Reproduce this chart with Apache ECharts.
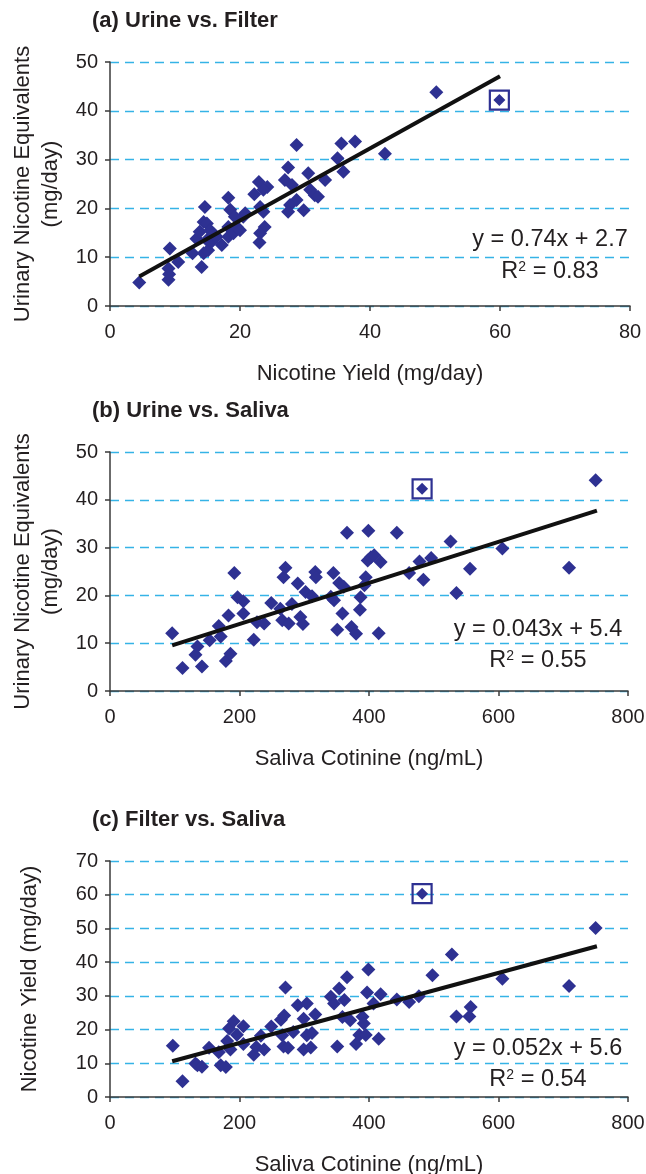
<!DOCTYPE html>
<html><head><meta charset="utf-8">
<script src="https://cdn.jsdelivr.net/npm/echarts@6/dist/echarts.min.js"></script>
<style>html,body{margin:0;padding:0;background:#fff}#c{width:646px;height:1174px}</style>
</head><body><div id="c"></div>
<script>
// ---------- DATA ----------
const panelTitles = ['(a) Urine vs. Filter', '(b) Urine vs. Saliva', '(c) Filter vs. Saliva'];
const xAxisNames = ['Nicotine Yield (mg/day)', 'Saliva Cotinine (ng/mL)', 'Saliva Cotinine (ng/mL)'];
const yAxisNames = ['Urinary Nicotine Equivalents\n(mg/day)', 'Urinary Nicotine Equivalents\n(mg/day)', 'Nicotine Yield (mg/day)'];
const xMax = [80, 800, 800];
const xStep = [20, 200, 200];
const yMax = [50, 50, 70];
const yStep = [10, 10, 10];

// (a) Nicotine yield (x) vs urinary nicotine equivalents (y)
const aX = [4.5,9.0,9.1,9.0,9.2,10.5,12.7,13.3,13.8,14.1,14.4,14.4,14.6,14.9,14.9,15.1,15.4,15.6,15.9,16.4,17.2,18.2,18.2,18.2,18.5,19.0,19.2,19.5,20.0,20.5,20.8,22.2,22.9,24.2,23.6,23.1,23.6,23.8,23.1,23.0,26.9,27.4,28.7,28.0,28.7,27.7,27.4,29.8,30.5,30.8,31.5,32.0,33.1,35.0,35.6,35.9,37.7,42.3,50.2];
const aY = [4.8,5.4,6.5,7.7,11.8,9.0,10.8,13.8,15.2,8.0,10.8,17.2,20.3,13.5,16.9,11.4,15.5,13.1,14.8,14.2,12.5,22.2,16.2,14.2,19.7,14.9,18.3,16.2,15.5,18.3,19.0,22.9,25.4,24.4,23.8,20.3,19.3,16.2,14.9,13.0,25.8,28.4,33.0,24.8,21.7,20.7,19.3,19.6,27.2,23.8,22.7,22.4,25.8,30.3,33.3,27.5,33.7,31.2,43.8];
const aOutlier = [59.9, 42.2];

// (b) Saliva cotinine (x) vs urinary nicotine equivalents (y)
const bX = [96,112,132,135,142,154,168,171,179,186,183,192,197,206,206,222,227,238,249,263,266,268,271,276,281,290,294,298,302,312,317,318,341,345,346,351,354,359,361,366,373,380,386,387,393,395,398,399,403,408,415,418,443,462,478,484,496,526,535,556,606,709,750];
const bY = [12.1,4.8,7.6,9.3,5.1,10.6,13.6,11.4,6.3,7.8,15.8,24.7,19.6,18.8,16.2,10.7,14.4,14.1,18.4,17.2,14.8,23.8,25.8,14.1,18.2,22.5,15.5,14.0,20.7,19.8,24.9,23.8,19.7,24.7,19.0,12.8,22.6,16.2,21.8,33.1,13.4,12.0,17.0,19.6,22.1,23.8,27.3,33.5,28.0,28.4,12.1,27.0,33.1,24.7,27.1,23.3,27.8,31.3,20.5,25.6,29.8,25.8,44.1];
const bOutlier = [482, 42.3];

// (c) Saliva cotinine (x) vs nicotine yield (y)
const cX = [97,112,132,135,142,153,168,171,179,181,186,184,191,196,206,206,222,226,238,233,249,264,269,266,268,275,283,271,290,304,299,299,310,304,312,317,341,354,346,362,359,371,366,351,390,392,385,395,380,399,397,407,415,418,443,462,477,498,528,535,555,557,606,709,750];
const cY = [15.2,4.7,9.9,9.4,9.0,14.6,13.3,9.4,8.9,16.6,14.1,20.3,22.5,18.5,21.0,15.7,12.5,14.8,14.1,18.2,20.9,22.9,24.2,18.3,15.0,14.6,19.3,32.5,27.2,27.7,23.2,14.1,14.7,18.3,19.0,24.5,29.7,32.2,27.7,28.8,23.7,22.8,35.5,15.0,23.8,21.8,18.4,18.4,15.7,37.8,31.0,27.7,17.3,30.5,28.9,28.2,29.9,36.1,42.3,23.9,23.9,26.7,35.1,32.9,50.1];
const cOutlier = [482, 60.3];

// Linear fits reported on the chart
const fitSlope = [0.74, 0.043, 0.052];
const fitIntercept = [2.7, 5.4, 5.6];
const fitR2 = ['0.83', '0.55', '0.54'];
const fitRange = [[4.5, 60], [96, 752], [96, 752]];

// ---------- LAYOUT ----------
const FONT = "'Liberation Sans', Arial, Helvetica, sans-serif";
const NAVY = '#2e3192';
const TXT = '#231f20';
const grids = [
  {left: 110, top: 62, width: 520, height: 244},
  {left: 110, top: 452, width: 518, height: 239},
  {left: 110, top: 861, width: 518, height: 236}
];
const titleY = [23, 413, 822];
const eqCenter = [[550, 240, 272], [538, 630, 661], [538, 1049, 1080]];
const yNameGap = [44, 44, 66];

const xs = [aX, bX, cX], ys = [aY, bY, cY], outs = [aOutlier, bOutlier, cOutlier];

const option = {
  animation: false,
  backgroundColor: '#fff',
  grid: grids.map(g => Object.assign({outerBoundsMode: 'none', containLabel: false}, g)),
  xAxis: grids.map((g, i) => ({
    gridIndex: i, type: 'value', min: 0, max: xMax[i], interval: xStep[i],
    name: xAxisNames[i], nameLocation: 'middle', nameGap: 57,
    nameTextStyle: {fontFamily: FONT, fontSize: 22, color: TXT},
    axisLine: {show: true, onZero: false, lineStyle: {color: '#3a3a3a', width: 1.5}},
    axisTick: {show: true, inside: false, length: 5, lineStyle: {color: '#3a3a3a', width: 1.5}},
    axisLabel: {fontFamily: FONT, fontSize: 20, color: TXT, margin: 16},
    splitLine: {show: false}
  })),
  yAxis: grids.map((g, i) => ({
    gridIndex: i, type: 'value', min: 0, max: yMax[i], interval: yStep[i],
    name: yAxisNames[i], nameLocation: 'middle', nameGap: yNameGap[i],
    nameTextStyle: {fontFamily: FONT, fontSize: 22, color: TXT, lineHeight: 28},
    axisLine: {show: true, onZero: false, lineStyle: {color: '#3a3a3a', width: 1.5}},
    axisTick: {show: true, inside: false, length: 5, lineStyle: {color: '#3a3a3a', width: 1.5}},
    axisLabel: {fontFamily: FONT, fontSize: 20, color: TXT, margin: 12},
    splitLine: {show: true, lineStyle: {color: '#35b3e6', width: 1.3, type: [9, 6]}}
  })),
  series: [],
  graphic: []
};

for (let i = 0; i < 3; i++) {
  option.series.push({
    type: 'scatter', xAxisIndex: i, yAxisIndex: i, symbol: 'diamond', symbolSize: 14,
    itemStyle: {color: NAVY, opacity: 1}, z: 3,
    data: xs[i].map((x, k) => [x, ys[i][k]])
  });
  option.series.push({
    type: 'scatter', xAxisIndex: i, yAxisIndex: i, symbol: 'diamond', symbolSize: 12,
    itemStyle: {color: NAVY, opacity: 1}, z: 3, data: [outs[i]]
  });
  option.series.push({
    type: 'scatter', xAxisIndex: i, yAxisIndex: i, symbol: 'rect', symbolSize: 19,
    itemStyle: {color: 'rgba(0,0,0,0)', borderColor: NAVY, borderWidth: 2.2, opacity: 1}, z: 3, data: [outs[i]]
  });
  const r = fitRange[i];
  option.series.push({
    type: 'line', xAxisIndex: i, yAxisIndex: i, symbol: 'none', z: 5,
    lineStyle: {color: '#111', width: 4},
    data: r.map(x => [x, fitSlope[i] * x + fitIntercept[i]])
  });
  option.graphic.push({
    type: 'text', left: 92, top: titleY[i] - 13,
    style: {text: panelTitles[i], font: `bold 22px ${FONT}`, fill: TXT}
  });
  const ec = eqCenter[i];
  option.graphic.push({
    type: 'text', x: ec[0], y: ec[1],
    style: {text: `y = ${fitSlope[i]}x + ${fitIntercept[i]}`, font: `23.5px ${FONT}`, fill: TXT, align: 'center', verticalAlign: 'middle'}
  });
  option.graphic.push({
    type: 'text', x: ec[0], y: ec[2],
    style: {text: `R{s|2} = ${fitR2[i]}`, font: `23.5px ${FONT}`, fill: TXT, align: 'center', verticalAlign: 'middle',
      rich: {s: {fontSize: 14, fontFamily: FONT, fill: TXT, verticalAlign: 'top', padding: [0, 0, 10, 0]}}}
  });
}

const chart = echarts.init(document.getElementById('c'), null, {renderer: 'canvas'});
chart.setOption(option);
</script>
</body></html>
